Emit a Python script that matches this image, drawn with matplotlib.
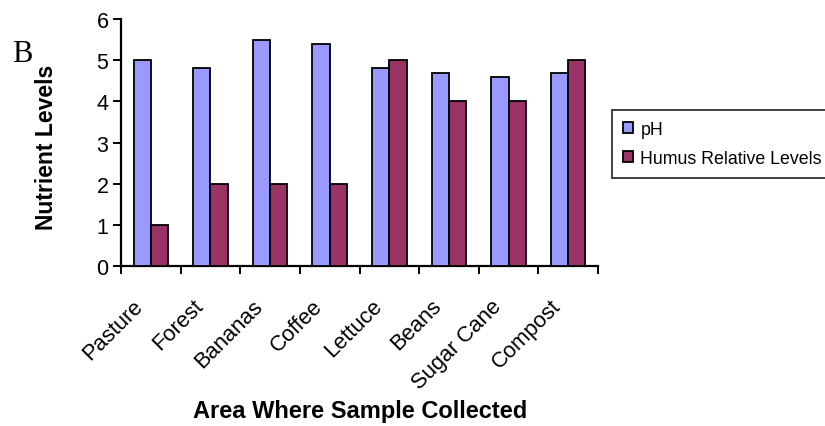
import matplotlib
matplotlib.use("Agg")
import matplotlib.pyplot as plt
import numpy as np
from matplotlib.patches import Patch
from matplotlib.transforms import ScaledTranslation

categories = ["Pasture", "Forest", "Bananas", "Coffee", "Lettuce", "Beans", "Sugar Cane", "Compost"]
ph_values = [5.0, 4.8, 5.5, 5.4, 4.8, 4.7, 4.6, 4.7]
humus_values = [1, 2, 2, 2, 5, 4, 4, 5]
series_names = ["pH", "Humus Relative Levels"]
y_ticks = [0, 1, 2, 3, 4, 5, 6]

plt.rcParams['font.family'] = ['Liberation Sans', 'DejaVu Sans']

W, H = 825, 427
DPI = 100
fig = plt.figure(figsize=(W / DPI, H / DPI), dpi=DPI)
ax = fig.add_axes([121 / W, 1 - 267 / H, (598 - 121) / W, (267 - 20) / H])

x = np.arange(len(categories))
bw = 0.29
c_ph = "#9999FF"
c_hu = "#993366"
ax.bar(x - bw / 2, ph_values, width=bw, color=c_ph, edgecolor="black", linewidth=1.3, zorder=3)
ax.bar(x + bw / 2, humus_values, width=bw, color=c_hu, edgecolor="black", linewidth=1.3, zorder=3)

ax.set_xlim(-0.5, len(categories) - 0.5)
ax.set_ylim(0, 6)
ax.set_yticks(y_ticks)
ax.set_yticklabels([str(t) for t in y_ticks], fontsize=15.5)

ax.set_xticks(x)
ax.set_xticklabels(categories, rotation=45, ha="right", va="top", rotation_mode="anchor", fontsize=15.8)
ax.tick_params(axis="x", which="major", length=0, pad=21)
off = ScaledTranslation(-18 / DPI, 0, fig.dpi_scale_trans)
for lab in ax.get_xticklabels():
    lab.set_transform(lab.get_transform() + off)
ax.set_xticks(np.arange(len(categories) + 1) - 0.5, minor=True)
ax.tick_params(axis="x", which="minor", length=6, width=1.4, direction="out")
ax.tick_params(axis="y", length=6, width=1.4, direction="out", pad=3)

for s in ["top", "right"]:
    ax.spines[s].set_visible(False)
for s in ["left", "bottom"]:
    ax.spines[s].set_linewidth(1.6)

fig.text(47 / W, 1 - 147 / H, "Nutrient Levels", rotation=90, ha="center", va="center",
         fontsize=16.5, fontweight="bold")
fig.text(360 / W, 1 - 412 / H, "Area Where Sample Collected", ha="center", va="center",
         fontsize=17, fontweight="bold")
fig.text(12 / W, 1 - 62 / H, "B", ha="left", va="baseline", fontsize=22,
         family=["Liberation Serif", "DejaVu Serif"])

handles = [Patch(facecolor=c_ph, edgecolor="black", linewidth=1.3),
           Patch(facecolor=c_hu, edgecolor="black", linewidth=1.3)]
leg = fig.legend(handles, series_names, loc="upper left", bbox_to_anchor=(612 / W, 1 - 111 / H),
                 frameon=True, fancybox=False, shadow=False, fontsize=12.8,
                 handlelength=0.6, handleheight=0.6, handletextpad=0.4,
                 borderpad=0.6, labelspacing=0.7, borderaxespad=0)
leg.get_frame().set_edgecolor("black")
leg.get_frame().set_linewidth(1.3)

fig.savefig("out.png", dpi=DPI)
